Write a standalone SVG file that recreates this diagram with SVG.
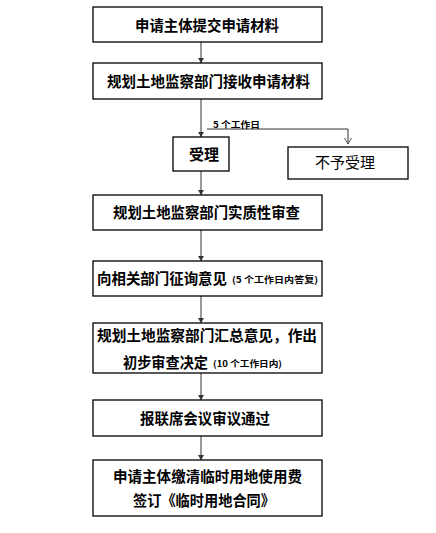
<svg xmlns="http://www.w3.org/2000/svg" width="436" height="533" viewBox="0 0 436 533">
<defs>
<style>
.box{fill:#fff;stroke:#000;stroke-width:1.3}
.t{font-family:"Noto Sans CJK SC","Noto Sans",sans-serif;font-weight:bold;font-size:15px;fill:#000;text-anchor:middle}
.s{font-family:"Noto Sans CJK SC","Noto Sans",sans-serif;font-weight:bold;font-size:9px;fill:#000}
.ln{fill:none;stroke:#333;stroke-width:1}
</style>
<marker id="ah" markerWidth="6" markerHeight="6" refX="5" refY="3" orient="auto" markerUnits="userSpaceOnUse">
<path d="M0,0 L5,3 L0,6 z" fill="#333"/>
</marker>
<marker id="av" markerWidth="8" markerHeight="8" refX="6" refY="4" orient="auto" markerUnits="userSpaceOnUse">
<path d="M0,0.5 L6,4 L0,7.5" fill="none" stroke="#555" stroke-width="1"/>
</marker>
</defs>
<g id="connectors">
<line class="ln" x1="201" y1="42" x2="201" y2="63" marker-end="url(#ah)"/>
<line class="ln" x1="201" y1="99" x2="201" y2="137" marker-end="url(#ah)"/>
<polyline class="ln" points="207,129 348,129 348,144" marker-end="url(#av)"/>
<line class="ln" x1="201" y1="171" x2="201" y2="195" marker-end="url(#ah)"/>
<line class="ln" x1="201" y1="230" x2="201" y2="261" marker-end="url(#ah)"/>
<line class="ln" x1="201" y1="296" x2="201" y2="323" marker-end="url(#ah)"/>
<line class="ln" x1="201" y1="373" x2="201" y2="400" marker-end="url(#ah)"/>
<line class="ln" x1="201" y1="436" x2="201" y2="460" marker-end="url(#ah)"/>
<text class="s" x="213" y="128" textLength="47" lengthAdjust="spacingAndGlyphs">5 个工作日</text>
</g>
<g id="n1">
<rect class="box" x="93" y="7" width="229" height="35"/>
<text class="t" x="207" y="31" textLength="144" lengthAdjust="spacingAndGlyphs">申请主体提交申请材料</text>
</g>
<g id="n2">
<rect class="box" x="93" y="63" width="229" height="36"/>
<text class="t" x="208.5" y="87" textLength="203" lengthAdjust="spacingAndGlyphs">规划土地监察部门接收申请材料</text>
</g>
<g id="n3">
<rect class="box" x="173" y="137" width="56" height="34"/>
<text class="t" x="204" y="160">受理</text>
</g>
<g id="n4">
<rect class="box" x="288" y="147" width="120" height="32"/>
<text class="t" x="345" y="168" style="font-weight:normal">不予受理</text>
</g>
<g id="n5">
<rect class="box" x="93" y="195" width="229" height="35"/>
<text class="t" x="206.5" y="218" textLength="187" lengthAdjust="spacingAndGlyphs">规划土地监察部门实质性审查</text>
</g>
<g id="n6">
<rect class="box" x="93" y="261" width="229" height="35"/>
<text class="t" x="162" y="284" textLength="130" lengthAdjust="spacingAndGlyphs">向相关部门征询意见</text>
<text class="s" x="232" y="283" textLength="86" lengthAdjust="spacingAndGlyphs">(5 个工作日内答复)</text>
</g>
<g id="n7">
<rect class="box" x="93" y="323" width="229" height="50"/>
<text class="t" x="207" y="341" textLength="220" lengthAdjust="spacingAndGlyphs">规划土地监察部门汇总意见，作出</text>
<text class="t" x="165.5" y="368" textLength="85" lengthAdjust="spacingAndGlyphs">初步审查决定</text>
<text class="s" x="213" y="367" textLength="69" lengthAdjust="spacingAndGlyphs">(10 个工作日内)</text>
</g>
<g id="n8">
<rect class="box" x="93" y="400" width="229" height="36"/>
<text class="t" x="205" y="424" textLength="130" lengthAdjust="spacingAndGlyphs">报联席会议审议通过</text>
</g>
<g id="n9">
<rect class="box" x="93" y="460" width="229" height="56"/>
<text class="t" x="207.5" y="482" textLength="189" lengthAdjust="spacingAndGlyphs">申请主体缴清临时用地使用费</text>
<text class="t" x="204" y="506" textLength="142" lengthAdjust="spacingAndGlyphs">签订《临时用地合同》</text>
</g>
</svg>
